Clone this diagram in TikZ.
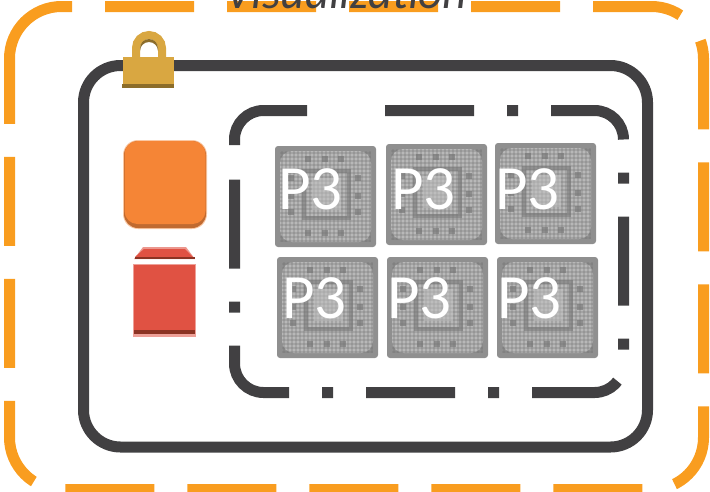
\documentclass[tikz,border=0pt]{standalone}
\usepackage{fontspec}
\setmainfont{Carlito}
\definecolor{orangeline}{HTML}{F99D1F}
\definecolor{darkline}{HTML}{414042}
\definecolor{lockgold}{HTML}{D9A741}
\definecolor{lockdark}{HTML}{8C6D2A}
\definecolor{boxorange}{HTML}{F58536}
\definecolor{boxorangedark}{HTML}{C06A30}
\definecolor{boxred}{HTML}{E05243}
\definecolor{boxreddark}{HTML}{8C3323}
\definecolor{chipbase}{HTML}{8F8F8F}
\definecolor{chiplight}{HTML}{B8B8B8}
\definecolor{chipdark}{HTML}{767676}
\tikzset{
  outerline/.style={draw=orangeline,line width=11pt,rounded corners=52pt},
  outerbox/.style={outerline,dash pattern=on 89pt off 33pt},
  innerbox/.style={draw=darkline,line width=11pt,rounded corners=37pt},
  dotline/.style={draw=darkline,line width=11pt,rounded corners=29pt},
  dotbox/.style={dotline,dash pattern=on 89pt off 33pt on 11pt off 33pt},
  chiplabel/.style={text=white,font=\fontsize{63}{63}\selectfont,inner sep=0pt,anchor=base west},
  titlelabel/.style={text=darkline,font=\fontsize{47}{47}\selectfont\itshape,inner sep=0pt,anchor=base west},
  chip/.pic={
    \fill[rounded corners=3pt,fill=chipbase] (0,0) rectangle (101,101);
    \fill[rounded corners=12pt,fill=chiplight] (5,5) rectangle (96,96);
    \foreach \k in {7,11,...,95}{
      \draw[chipdark,line width=1.2pt,opacity=.3] (\k,5) -- (\k,96);
      \draw[chipdark,line width=1.2pt,opacity=.3] (5,\k) -- (96,\k);
    }
    \draw[chipdark,line width=4pt,opacity=.6] (29,25) rectangle (74,72);
    \fill[chiplight!85!white,opacity=.5] (37,32) rectangle (66,64);
    \foreach \a/\b in {16/32,16/50,16/66,83/32,83/50,83/66,33/13,50/13,66/13,33/87,50/87,66/87}{
      \fill[chipdark,opacity=.65] (\a-3,\b-3) rectangle (\a+3,\b+3);
    }
  }
}
\begin{document}
\begin{tikzpicture}[x=1pt,y=-1pt]
\useasboundingbox (0,0) rectangle (710,491);
% outer dashed frame
\draw[outerbox] (105,6.5) -- (703.5,6.5) -- (703.5,489.5) -- (9.5,489.5) -- (9.5,122);
\draw[outerline] (9.5,122) -- (9.5,6.5) -- (72,6.5);
% title
\node[titlelabel] (title) at (225,8) {Visualization};
% inner frame
\draw[innerbox] (83.5,65.5) rectangle (647.5,447);
% dash-dot frame
\draw[dotbox] (385,110.5) -- (623.5,110.5) -- (623.5,392.5) -- (234.5,392.5) -- (234.5,178);
\draw[dotline] (234.5,145) -- (234.5,110.5) -- (307,110.5);
% lock
\draw[lockgold,line width=8pt] (136,60) -- (136,48) arc[start angle=180,end angle=360,radius=13] -- (162,60);
\fill[lockdark] (140,48) arc[start angle=180,end angle=360,radius=9] -- (158,51) arc[start angle=360,end angle=180,radius=9] -- cycle;
\fill[lockgold] (123,57) rectangle (174,84.5);
\fill[lockdark] (122,84) rectangle (174,88);
% orange box
\fill[boxorange!45!white,rounded corners=15pt] (123,140) rectangle (207,229);
\fill[boxorangedark,rounded corners=14pt] (124,141) rectangle (206,228);
\fill[boxorange,rounded corners=13pt] (124.5,141) rectangle (205.5,224);
% red box
\fill[boxred!60!white] (143,247) -- (186,247) -- (195,259) -- (134,259) -- cycle;
\fill[boxred] (144,249) -- (185,249) -- (193,257) -- (135,257) -- cycle;
\fill[boxreddark] (135,256.5) rectangle (195,259);
\fill[boxred!55!white] (133,264) rectangle (196,337);
\fill[boxred] (134,265) rectangle (195,331);
\fill[boxreddark] (134,330) rectangle (195,334);
% chips
\pic at (275,146) {chip};
\pic at (386,144) {chip};
\pic at (495,143) {chip};
\pic at (277,257) {chip};
\pic at (387,257) {chip};
\pic at (497,257) {chip};
\node[chiplabel] (p1) at (278,209) {P3};
\node[chiplabel] (p2) at (391,209) {P3};
\node[chiplabel] (p3) at (495,209) {P3};
\node[chiplabel] (p4) at (282,318) {P3};
\node[chiplabel] (p5) at (387,318) {P3};
\node[chiplabel] (p6) at (497,318) {P3};
\end{tikzpicture}
\end{document}
